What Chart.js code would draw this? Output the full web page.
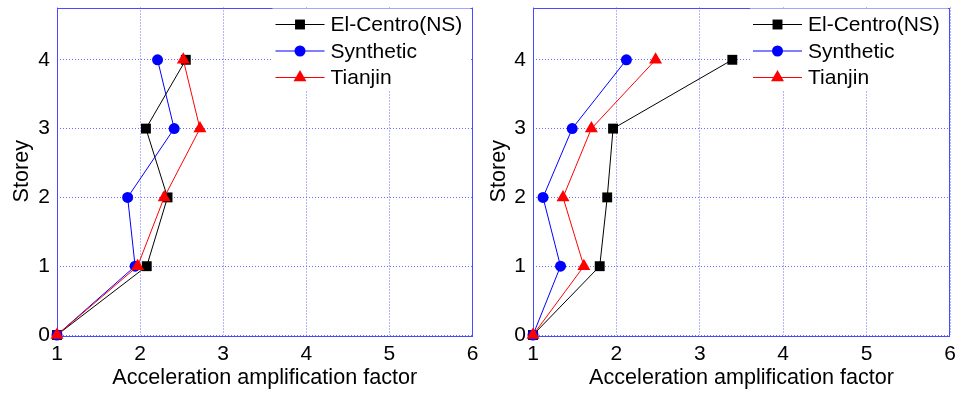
<!DOCTYPE html>
<html>
<head>
<meta charset="utf-8">
<script src="https://cdn.jsdelivr.net/npm/chart.js@4"></script>
<style>
  html, body { margin: 0; padding: 0; background: #fff; }
  #wrap { position: relative; width: 959px; height: 397px; }
  #left { position: absolute; left: 0; top: 0; }
  #right { position: absolute; left: 480px; top: 0; }
</style>
</head>
<body>
<div id="wrap">
  <canvas id="left" width="480" height="397"></canvas>
  <canvas id="right" width="479" height="397"></canvas>
</div>
<script>
// storeys (y) shared by every series
const storeys = [0, 1, 2, 3, 4];
const seriesNames = ['El-Centro(NS)', 'Synthetic', 'Tianjin'];

// left panel: amplification factor per storey
const leftElCentro  = [1, 2.08, 2.33, 2.07, 2.55];
const leftSynthetic = [1, 1.94, 1.85, 2.41, 2.21];
const leftTianjin   = [1, 1.97, 2.29, 2.72, 2.52];

// right panel
const rightElCentro  = [1, 1.80, 1.89, 1.96, 3.39];
const rightSynthetic = [1, 1.33, 1.12, 1.47, 2.12];
const rightTianjin   = [1, 1.61, 1.36, 1.70, 2.47];

const xTicks = [1, 2, 3, 4, 5, 6];
const yTicks = [0, 1, 2, 3, 4];

const FONT = "'Liberation Sans', Arial, sans-serif";
const BLUE_BORDER = '#4a4aff';
const GRID = '#6a6aff';

const styles = [
  { color: '#000000', pointStyle: 'rect', radius: 7, order: 3 },
  { color: '#0000ff', pointStyle: 'circle', radius: 5.5, order: 2 },
  { color: '#ff0000', pointStyle: 'triangle', radius: 7.5, order: 1 }
];

function marker(ctx, i, x, y) {
  const r = styles[i].radius;
  ctx.fillStyle = styles[i].color;
  ctx.beginPath();
  if (i === 0) {
    const s = r * Math.SQRT1_2;
    ctx.rect(x - s, y - s, 2 * s, 2 * s);
  } else if (i === 1) {
    ctx.arc(x, y, r, 0, Math.PI * 2);
  } else {
    ctx.moveTo(x, y - r);
    ctx.lineTo(x + r * Math.sin(Math.PI / 3), y + r / 2);
    ctx.lineTo(x - r * Math.sin(Math.PI / 3), y + r / 2);
    ctx.closePath();
  }
  ctx.fill();
}

// boxed frame under the data, legend in the upper right on top
const frameLegend = {
  id: 'frameLegend',
  beforeDatasetsDraw(chart) {
    const { ctx, chartArea: a } = chart;
    ctx.save();
    ctx.strokeStyle = BLUE_BORDER;
    ctx.lineWidth = 1;
    ctx.strokeRect(Math.round(a.left) + 0.5, Math.round(a.top) + 0.5,
      Math.round(a.right - a.left) - 1, Math.round(a.bottom - a.top));
    ctx.restore();
  },
  afterDraw(chart) {
    const { ctx, chartArea: a } = chart;
    ctx.save();
    const bx = a.right - 200;
    ctx.fillStyle = '#fff';
    ctx.fillRect(bx, a.top + 1, a.right - bx - 2, 82);
    chart.data.datasets.forEach((ds, i) => {
      const y = a.top + 17 + i * 26.5;
      ctx.strokeStyle = ds.borderColor;
      ctx.lineWidth = 1;
      ctx.beginPath();
      ctx.moveTo(bx + 3, y);
      ctx.lineTo(bx + 52, y);
      ctx.stroke();
      marker(ctx, i, bx + 27.5, y);
      ctx.fillStyle = '#000';
      ctx.font = '21px ' + FONT;
      ctx.textBaseline = 'middle';
      ctx.textAlign = 'left';
      ctx.fillText(ds.label, bx + 58, y + 1);
    });
    ctx.restore();
  }
};

function makeChart(id, series, yWidth, padRight, yTitlePad) {
  new Chart(document.getElementById(id), {
    type: 'scatter',
    data: {
      datasets: series.map((vals, i) => ({
        label: seriesNames[i],
        data: vals.map((v, k) => ({ x: v, y: storeys[k] })),
        showLine: true,
        clip: false,
        borderColor: styles[i].color,
        backgroundColor: styles[i].color,
        borderWidth: 1,
        pointStyle: styles[i].pointStyle,
        pointRadius: styles[i].radius,
        pointBorderWidth: 0,
        order: styles[i].order
      }))
    },
    options: {
      responsive: false,
      animation: false,
      layout: { padding: { top: 6, right: padRight, left: 0, bottom: 0 } },
      plugins: { legend: { display: false }, tooltip: { enabled: false } },
      scales: {
        x: {
          type: 'linear', min: 1, max: 6,
          afterBuildTicks: s => { s.ticks = xTicks.map(v => ({ value: v })); },
          afterFit: s => { s.height = 62; s.paddingLeft = 0; s.paddingRight = 0; },
          border: { display: false, dash: [1, 2] },
          grid: { color: GRID, drawTicks: false },
          ticks: { color: '#000', font: { family: FONT, size: 21 }, padding: 7, maxRotation: 0 },
          title: { display: true, text: 'Acceleration amplification factor', color: '#000',
                   font: { family: FONT, size: 21.6 }, padding: { top: 0, bottom: 6 } }
        },
        y: {
          type: 'linear', min: 0, max: 4.76,
          afterBuildTicks: s => { s.ticks = yTicks.map(v => ({ value: v })); },
          afterFit: s => { s.width = yWidth; s.paddingTop = 0; s.paddingBottom = 0; },
          border: { display: false, dash: [1, 2] },
          grid: { color: GRID, drawTicks: false },
          ticks: { color: '#000', font: { family: FONT, size: 21 }, padding: 7 },
          title: { display: true, text: 'Storey', color: '#000',
                   font: { family: FONT, size: 21.6 }, padding: { top: yTitlePad, bottom: 0 } }
        }
      }
    },
    plugins: [frameLegend]
  });
}

makeChart('left', [leftElCentro, leftSynthetic, leftTianjin], 57, 6, 9);
makeChart('right', [rightElCentro, rightSynthetic, rightTianjin], 53, 9, 6);
</script>
</body>
</html>
